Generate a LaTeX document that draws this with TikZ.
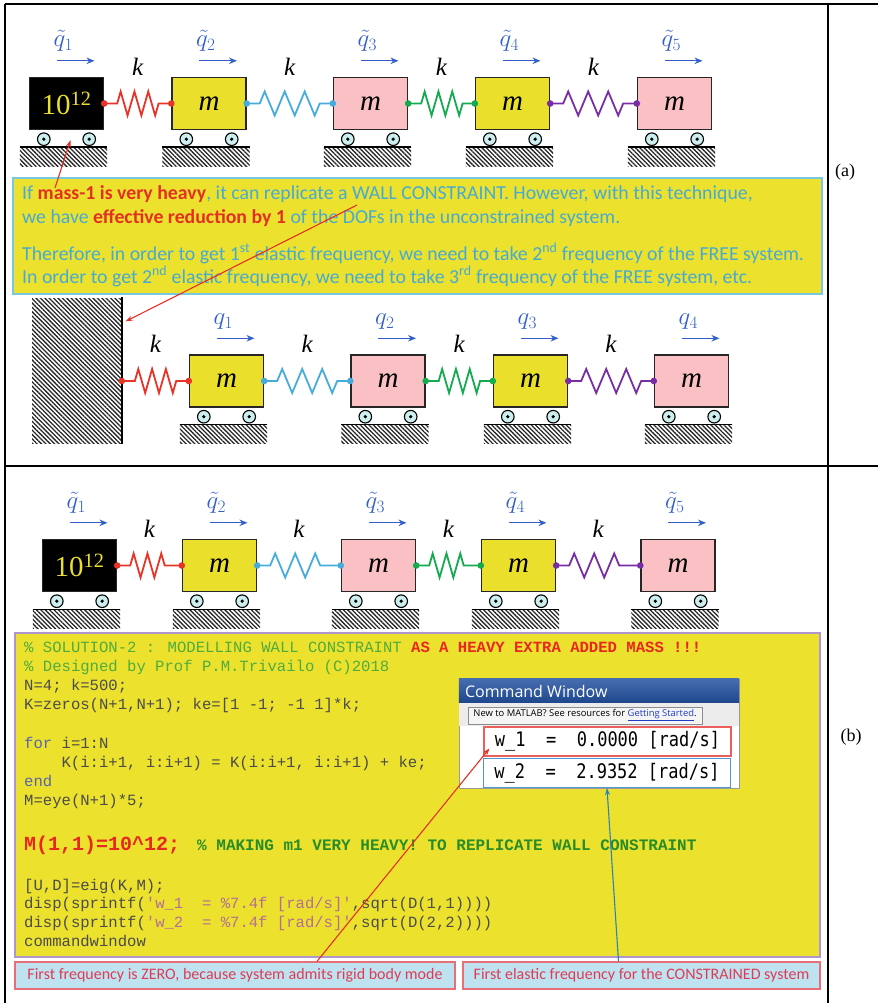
\documentclass[tikz,border=0pt]{standalone}
\usepackage{fontspec}
\setmainfont{Liberation Serif}
\newfontfamily\calibri{Carlito}
\newfontfamily\codefont{Liberation Mono}
\newfontfamily\uifont{Open Sans}
\newfontfamily\outfont[FakeStretch=0.85]{DejaVu Sans Mono}
\usetikzlibrary{calc,arrows.meta,decorations.pathmorphing,patterns.meta}

\definecolor{massyellow}{RGB}{234,224,44}
\definecolor{masspink}{RGB}{250,192,196}
\definecolor{notefill}{RGB}{236,226,46}
\definecolor{noteborder}{RGB}{120,200,225}
\definecolor{notetext}{RGB}{70,170,210}
\definecolor{notered}{RGB}{228,48,36}
\definecolor{springred}{RGB}{232,52,40}
\definecolor{springblue}{RGB}{70,172,220}
\definecolor{springgreen}{RGB}{20,170,80}
\definecolor{springpurple}{RGB}{120,45,165}
\definecolor{coordblue}{RGB}{50,95,200}
\definecolor{wheelfill}{RGB}{205,238,238}
\definecolor{codeborder}{RGB}{175,150,205}
\definecolor{codetext}{RGB}{75,75,75}
\definecolor{codegreen}{RGB}{80,172,60}
\definecolor{codedeep}{RGB}{40,140,40}
\definecolor{codered}{RGB}{232,40,30}
\definecolor{codekey}{RGB}{90,100,170}
\definecolor{codestring}{RGB}{180,110,150}
\definecolor{titletop}{RGB}{70,110,175}
\definecolor{titlebot}{RGB}{30,70,140}
\definecolor{barfill}{RGB}{236,236,236}
\definecolor{linkblue}{RGB}{30,60,200}
\definecolor{boxred}{RGB}{235,95,95}
\definecolor{boxblue}{RGB}{80,150,210}
\definecolor{tipfill}{RGB}{190,226,240}
\definecolor{tipborder}{RGB}{232,110,120}
\definecolor{tiptext}{RGB}{222,60,85}
\definecolor{pointerblue}{RGB}{40,130,190}

\tikzset{
  rule/.style={line width=1.4pt},
  panel/.style={font=\fontsize{18}{18}\selectfont},
  mass/.style={draw=black!85, line width=1.4pt, minimum width=74pt, minimum height=52pt,
    inner sep=0pt, font=\fontsize{29}{29}\selectfont\itshape},
  wheel/.style={draw=black, line width=1.1pt, fill=wheelfill},
  ground/.style={line width=1.4pt},
  hatch/.style={pattern={Lines[angle=-45,distance=3.1pt,line width=1.3pt]}, pattern color=black!85},
  spring/.style={decorate, decoration={zigzag, segment length=#1, amplitude=12pt,
    pre length=13pt, post length=12pt}, line width=1.8pt},
  klabel/.style={font=\fontsize{25}{25}\selectfont\itshape, inner sep=0pt},
  qlabel/.style={text=coordblue, font=\fontsize{26}{26}\selectfont, anchor=base west, inner sep=0pt},
  qarrow/.style={coordblue, line width=1.3pt, -{Stealth[length=8pt,width=6.5pt]}},
  notebox/.style={fill=notefill, draw=noteborder, line width=1.5pt},
  noteline/.style={anchor=base west, inner sep=0pt, text=notetext, font=\calibri\fontsize{19.8}{19.8}\selectfont},
  codebox/.style={fill=notefill, draw=codeborder, line width=1.2pt},
  codeline/.style={anchor=base west, inner sep=0pt, text=codetext, font=\codefont\fontsize{15.6}{15.6}\selectfont},
  outline/.style={minimum width=247pt, minimum height=29pt, line width=1.2pt, inner sep=0pt,
    font=\outfont\fontsize{20}{20}\selectfont},
  tip/.style={fill=tipfill, draw=tipborder, line width=1.2pt, minimum height=27pt, inner sep=0pt,
    text=tiptext, font=\calibri\fontsize{16}{16}\selectfont},
  pointer/.style={line width=1.1pt, -{Stealth[length=7pt,width=5pt]}}
}

\begin{document}
\begin{tikzpicture}[x=1pt,y=-1pt]
\useasboundingbox (0,0) rectangle (878,1003);

% table rules and panel tags
\draw[rule] (5,4) -- (878,4);
\draw[rule] (5,466) -- (878,466);
\draw[rule] (5,4) -- (5,1003);
\draw[rule] (828,4) -- (828,1003);
\node[panel] (pa) at (845,172) {(a)};
\node[panel] (pb) at (851,737) {(b)};

% free chain, first mass very heavy
\node[mass, fill=black, text=massyellow, font=\fontsize{29}{29}\selectfont] (a1) at (66.5,103.5) {10\textsuperscript{12}};
\node[mass, fill=massyellow] (a2) at (209,103.5) {m};
\node[mass, fill=masspink] (a3) at (370.5,103.5) {m};
\node[mass, fill=massyellow] (a4) at (512.5,103.5) {m};
\node[mass, fill=masspink] (a5) at (674.5,103.5) {m};

% note
\draw[notebox] (13,178) rectangle (822,294);
\node[noteline] (n1) at (22,199) {If {\bfseries\color{notered}mass-1 is very heavy}, it can replicate a WALL CONSTRAINT. However, with this technique,};
\node[noteline] (n2) at (22,223) {we have {\bfseries\color{notered}effective reduction by 1} of the DOFs in the unconstrained system.};
\node[noteline] (n3) at (22,260) {Therefore, in order to get 1\textsuperscript{st} elastic frequency, we need to take 2\textsuperscript{nd} frequency of the FREE system.};
\node[noteline] (n4) at (22,283) {In order to get 2\textsuperscript{nd} elastic frequency, we need to take 3\textsuperscript{rd} frequency of the FREE system, etc.};
\coordinate (heavy) at (55,188);
\coordinate (wallword) at (357,205);

% constrained chain
\node[hatch, minimum width=89pt, minimum height=145pt, inner sep=0pt] (wall) at (76.5,370.5) {};
\draw[line width=2pt] (wall.north east) -- (wall.south east);
\node[mass, fill=massyellow] (c1) at (226.5,381) {m};
\node[mass, fill=masspink] (c2) at (388,381) {m};
\node[mass, fill=massyellow] (c3) at (530.5,381) {m};
\node[mass, fill=masspink] (c4) at (691.5,381) {m};
\node[inner sep=0pt, minimum size=0pt] (wallpin) at (wall.east |- c1.west) {};

% same chain again for the code panel
\node[mass, fill=black, text=massyellow, font=\fontsize{29}{29}\selectfont] (b1) at (79.5,565.5) {10\textsuperscript{12}};
\node[mass, fill=massyellow] (b2) at (219.5,565.5) {m};
\node[mass, fill=masspink] (b3) at (378.5,565.5) {m};
\node[mass, fill=massyellow] (b4) at (518.5,565.5) {m};
\node[mass, fill=masspink] (b5) at (678,565.5) {m};

% carts: wheels and ground
\foreach \n in {a1,a2,a3,a4,a5,c1,c2,c3,c4,b1,b2,b3,b4,b5}{
  \fill[hatch] ($(\n.south west)+(-9,17)$) rectangle ($(\n.south east)+(3,36)$);
  \draw[ground] ($(\n.south west)+(-9,17)$) -- ($(\n.south east)+(3,17)$);
  \draw[wheel] ($(\n.south west)+(15,9)$) circle (6.3);
  \draw[wheel] ($(\n.south east)+(-15,9)$) circle (6.3);
  \fill ($(\n.south west)+(15,9)$) circle (1.8);
  \fill ($(\n.south east)+(-15,9)$) circle (1.8);
}

% springs
\foreach \l/\r/\c/\s in {a1/a2/springred/13.8pt, a2/a3/springblue/20pt, a3/a4/springgreen/13.8pt, a4/a5/springpurple/20pt,
    wallpin/c1/springred/13.8pt, c1/c2/springblue/20pt, c2/c3/springgreen/13.8pt, c3/c4/springpurple/20pt,
    b1/b2/springred/13.8pt, b2/b3/springblue/20pt, b3/b4/springgreen/13.8pt, b4/b5/springpurple/20pt}{
  \draw[spring=\s, \c] (\l.east) -- (\r.west);
  \fill[\c] (\l.east) circle (3.3) (\r.west) circle (3.3);
  \node[klabel] (k-\l) at ($(\l.east)!0.5!(\r.west)+(0,-37)$) {k};
}

% displacements
\foreach \n/\i in {a1/1,a2/2,a3/3,a4/4,a5/5,b1/1,b2/2,b3/3,b4/4,b5/5}{
  \draw[qarrow] ($(\n.north)+(-10,-16)$) -- ($(\n.north)+(28,-16)$);
  \node[qlabel] (q-\n) at ($(\n.north)+(-13,-30)$) {$\tilde{q}_{\i}$};
}
\foreach \n/\i in {c1/1,c2/2,c3/3,c4/4}{
  \draw[qarrow] ($(\n.north)+(-10,-16)$) -- ($(\n.north)+(28,-16)$);
  \node[qlabel] (q-\n) at ($(\n.north)+(-13,-30)$) {$q_{\i}$};
}

% code
\draw[codebox] (15,633) rectangle (820,957);
\node[codeline] (l1) at (24,652) {{\color{codegreen}\% SOLUTION-2 : MODELLING WALL CONSTRAINT }{\bfseries\color{codered}AS A HEAVY EXTRA ADDED MASS !!!}};
\node[codeline, text=codegreen] (l2) at (24,671) {\% Designed by Prof P.M.Trivailo (C)2018};
\node[codeline] (l3) at (24,690) {N=4; k=500;};
\node[codeline] (l4) at (24,709) {K=zeros(N+1,N+1); ke=[1 -1; -1 1]*k;};
\node[codeline] (l5) at (24,748) {{\color{codekey}for} i=1:N};
\node[codeline] (l6) at (61.4,767) {K(i:i+1, i:i+1) = K(i:i+1, i:i+1) + ke;};
\node[codeline, text=codekey] (l7) at (24,786) {end};
\node[codeline] (l8) at (24,805) {M=eye(N+1)*5;};
\node[codeline, font=\codefont\bfseries\fontsize{20}{20}\selectfont, text=codered] (l9) at (24,850) {M(1,1)=10\^{}12;};
\node[codeline, font=\codefont\bfseries\fontsize{16}{16}\selectfont, text=codedeep] (l9c) at (197,850) {\% MAKING m1 VERY HEAVY! TO REPLICATE WALL CONSTRAINT};
\node[codeline] (l10) at (24,890) {[U,D]=eig(K,M);};
\node[codeline] (l11) at (24,908) {disp(sprintf({\color{codestring}\textquotesingle w\_1~~= \%7.4f [rad/s]\textquotesingle},sqrt(D(1,1))))};
\node[codeline] (l12) at (24,927) {disp(sprintf({\color{codestring}\textquotesingle w\_2~~= \%7.4f [rad/s]\textquotesingle},sqrt(D(2,2))))};
\node[codeline] (l13) at (24,946) {commandwindow};

% command window
\node[fill=white, draw=black!40, minimum width=280pt, minimum height=109pt, inner sep=0pt] (cmd) at (599,733.5) {};
\fill[top color=titletop, bottom color=titlebot] (cmd.north west) rectangle ($(cmd.north east)+(0,24)$);
\node[anchor=base west, inner sep=0pt, text=white, font=\uifont\fontsize{16}{16}\selectfont] (cmdt) at ($(cmd.north west)+(6,19)$) {Command Window};
\fill[barfill] ($(cmd.north west)+(0,24)$) rectangle ($(cmd.north east)+(0,47)$);
\node[fill=white!96!black, draw=black!45, minimum width=234pt, minimum height=17pt, inner sep=0pt,
  font=\uifont\fontsize{9.4}{9.4}\selectfont] (res) at (585,715.5) {New to MATLAB? See resources for \textcolor{linkblue}{\underline{Getting Started}}.};
\node[outline, draw=boxred] (w1) at (607.5,741.5) {w\_1~~=~~0.0000 [rad/s]};
\node[outline, draw=boxblue] (w2) at (607,773) {w\_2~~=~~2.9352 [rad/s]};

% remarks
\node[tip, minimum width=440pt] (tip1) at (235,975.5) {First frequency is ZERO, because system admits rigid body mode};
\node[tip, minimum width=357pt] (tip2) at (641.5,975.5) {First elastic frequency for the CONSTRAINED system};

% pointers
\draw[pointer, notered] (heavy) -- ($(a1.south)+(4,10)$);
\draw[pointer, notered] (wallword) -- ($(wall.north east)+(4,24)$);
\draw[pointer, notered] ($(tip1.north)+(82,0)$) -- ($(w1.west)+(6,7)$);
\draw[pointer, pointerblue] ($(tip2.north)+(-23,0)$) -- (w2.south);
\end{tikzpicture}
\end{document}
